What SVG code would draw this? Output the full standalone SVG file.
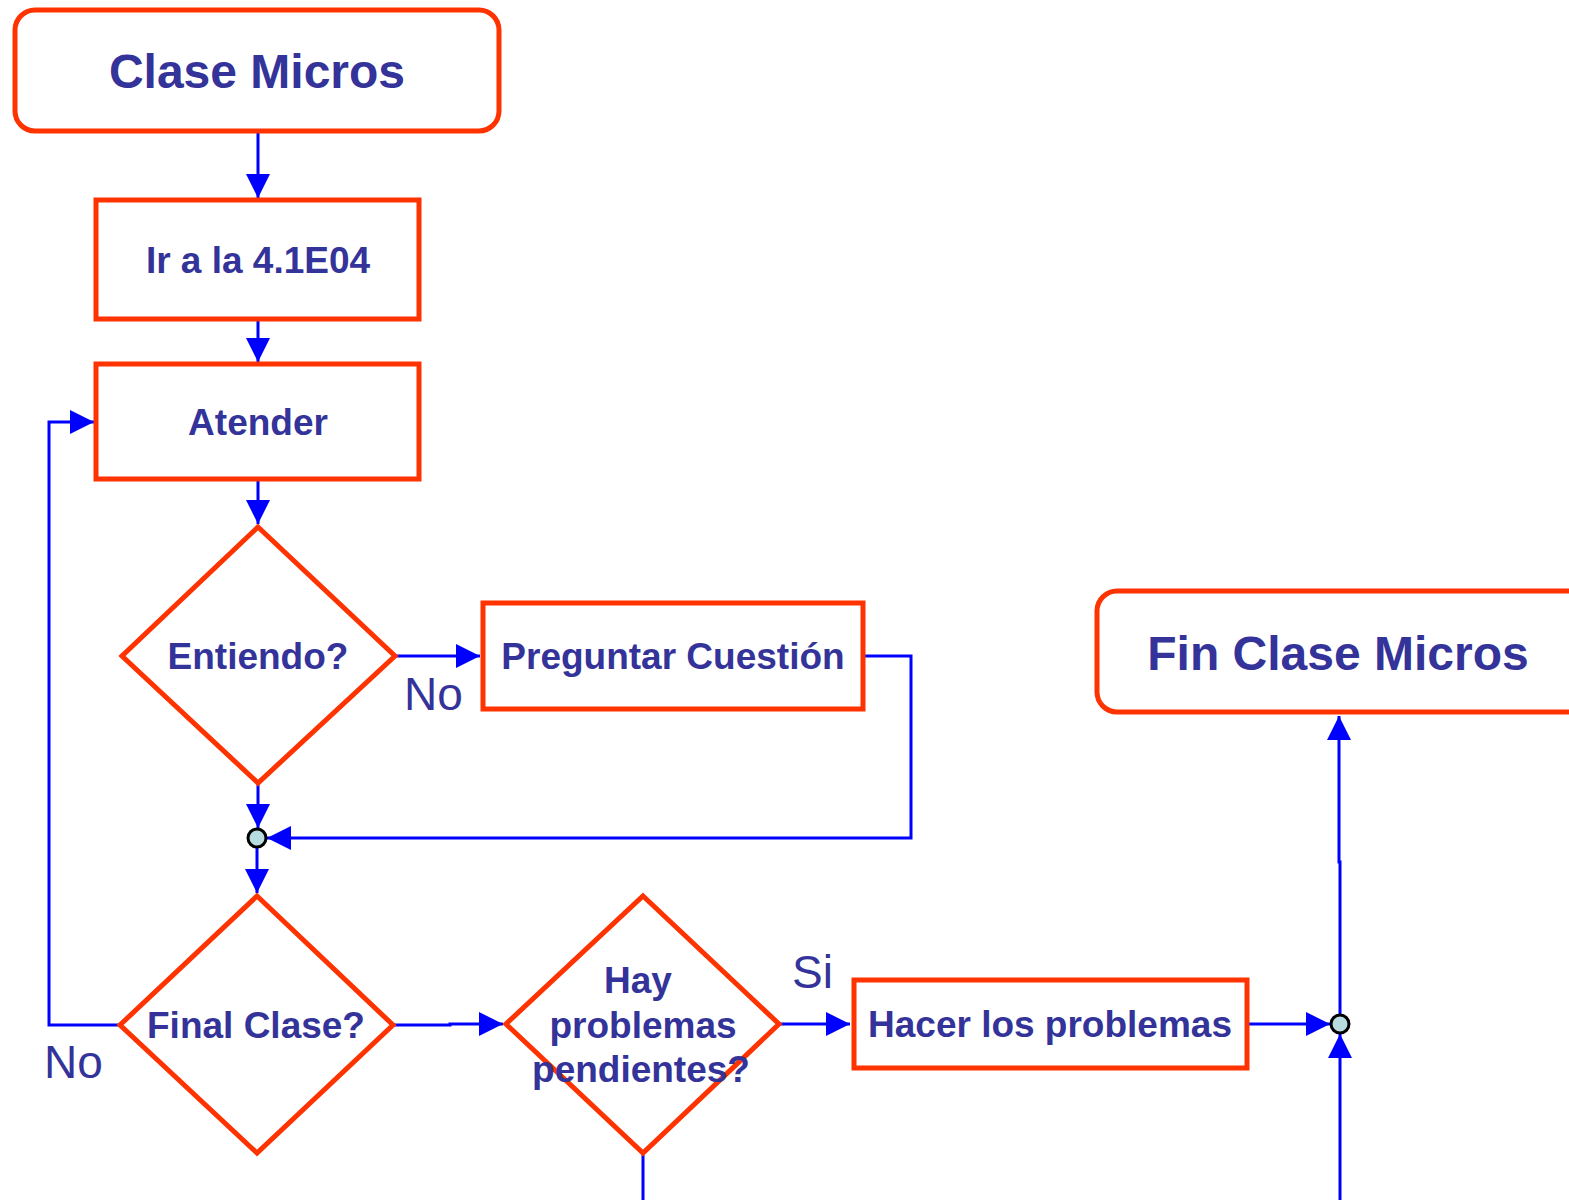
<svg xmlns="http://www.w3.org/2000/svg" width="1569" height="1200" viewBox="0 0 1569 1200">
  <style>
    .box { fill: #ffffff; stroke: #ff3300; stroke-width: 5; }
    .lbl { font-family: "Liberation Sans", Arial, sans-serif; font-weight: bold; fill: #333399; text-anchor: middle; }
    .big { font-size: 48px; }
    .mid { font-size: 37px; }
    .tag { font-family: "Liberation Sans", Arial, sans-serif; font-size: 46px; fill: #333399; }
    .wire { fill: none; stroke: #0000ff; stroke-width: 3; }
    .dot { fill: #b8dde0; stroke: #000000; stroke-width: 3; }
  </style>
  <defs>
    <marker id="arrow" markerUnits="userSpaceOnUse" markerWidth="24" markerHeight="24" refX="24" refY="12" orient="auto">
      <path d="M0,0 L24,12 L0,24 z" fill="#0000ff"/>
    </marker>
  </defs>
  <rect width="1569" height="1200" fill="#ffffff"/>

  <!-- connectors -->
  <g id="connectors">
    <path class="wire" d="M258,131 V198" marker-end="url(#arrow)"/>
    <path class="wire" d="M258,319 V362" marker-end="url(#arrow)"/>
    <path class="wire" d="M258,479 V524" marker-end="url(#arrow)"/>
    <path class="wire" d="M395,656 H480" marker-end="url(#arrow)"/>
    <path class="wire" d="M863,656 H911 V838 H267" marker-end="url(#arrow)"/>
    <path class="wire" d="M258,783 V828" marker-end="url(#arrow)"/>
    <path class="wire" d="M257,847 V893" marker-end="url(#arrow)"/>
    <path class="wire" d="M120,1025 H49 V422 H94" marker-end="url(#arrow)"/>
    <path class="wire" d="M393,1025 H450 V1024 H503" marker-end="url(#arrow)"/>
    <path class="wire" d="M779,1024 H850" marker-end="url(#arrow)"/>
    <path class="wire" d="M643,1153 V1200"/>
    <path class="wire" d="M1247,1024 H1330" marker-end="url(#arrow)"/>
    <path class="wire" d="M1340,1200 V1034" marker-end="url(#arrow)"/>
    <path class="wire" d="M1340,1015 V862 H1339 V716" marker-end="url(#arrow)"/>
    <circle class="dot" cx="257" cy="838" r="9"/>
    <circle class="dot" cx="1340" cy="1024" r="9"/>
  </g>

  <!-- labels on branches -->
  <text class="tag" x="404" y="710">No</text>
  <text class="tag" x="44" y="1078">No</text>
  <text class="tag" x="792" y="988">Si</text>

  <g id="start">
    <rect class="box" x="15" y="10" width="484" height="121" rx="20"/>
    <text class="lbl big" x="257" y="88">Clase Micros</text>
  </g>
  <g id="goto-room">
    <rect class="box" x="96" y="200" width="323" height="119"/>
    <text class="lbl mid" x="258" y="273">Ir a la 4.1E04</text>
  </g>
  <g id="attend">
    <rect class="box" x="96" y="364" width="323" height="115"/>
    <text class="lbl mid" x="258" y="435">Atender</text>
  </g>
  <g id="understand">
    <polygon class="box" points="258,527 395,656 258,783 122,656"/>
    <text class="lbl mid" x="258" y="669">Entiendo?</text>
  </g>
  <g id="ask">
    <rect class="box" x="483" y="603" width="380" height="106"/>
    <text class="lbl mid" x="673" y="669">Preguntar Cuestión</text>
  </g>
  <g id="class-end">
    <polygon class="box" points="257,896 393,1025 257,1153 120,1025"/>
    <text class="lbl mid" x="256" y="1038">Final Clase?</text>
  </g>
  <g id="pending">
    <polygon class="box" points="643,896 779,1024 643,1153 506,1024"/>
    <text class="lbl mid" x="638" y="993">Hay</text>
    <text class="lbl mid" x="643" y="1038">problemas</text>
    <text class="lbl mid" x="641" y="1082">pendientes?</text>
  </g>
  <g id="solve">
    <rect class="box" x="854" y="980" width="393" height="88"/>
    <text class="lbl mid" x="1050" y="1037">Hacer los problemas</text>
  </g>
  <g id="finish">
    <rect class="box" x="1097" y="591" width="490" height="121" rx="20"/>
    <text class="lbl big" x="1338" y="670">Fin Clase Micros</text>
  </g>
</svg>
